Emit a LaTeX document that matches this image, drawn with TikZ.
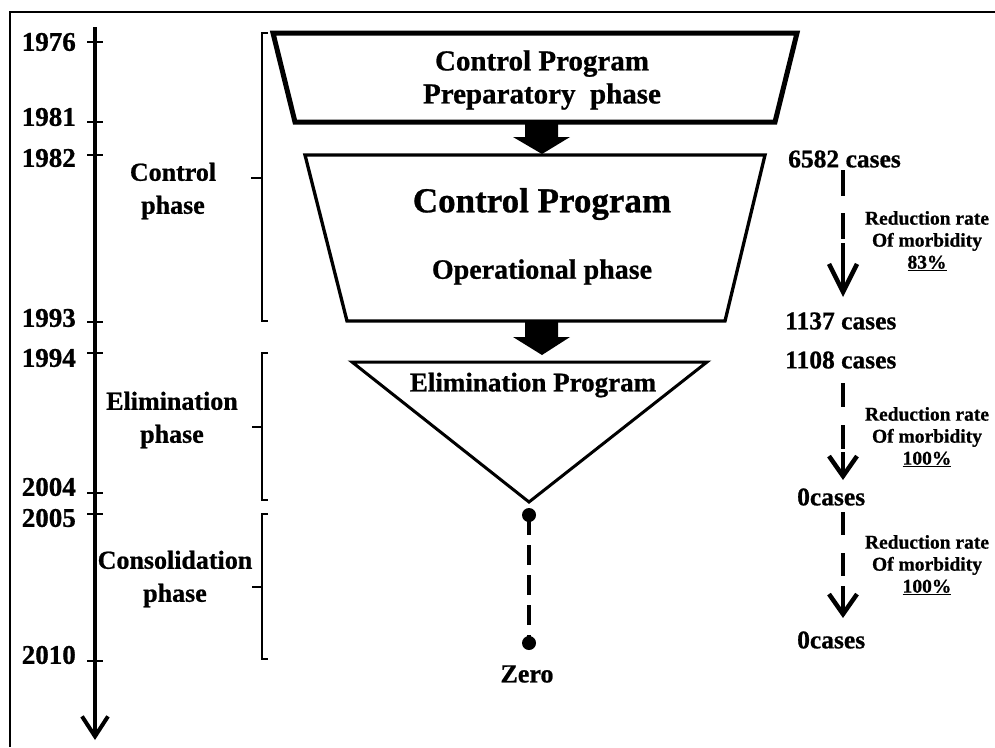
\documentclass[tikz,border=0pt]{standalone}
\usepackage{fontspec}
\setmainfont[BoldFeatures={FakeBold=0.8}]{Liberation Serif}
\usetikzlibrary{arrows.meta}
\begin{document}
\begin{tikzpicture}[x=1pt,y=-1pt,
  every node/.style={inner sep=0pt, align=center},
  yr/.style={font=\fontsize{27}{30}\selectfont\bfseries, anchor=east},
  phs/.style={font=\fontsize{26}{33}\selectfont\bfseries},
  cases/.style={font=\fontsize{25.5}{30}\selectfont\bfseries, anchor=west},
  redn/.style={font=\fontsize{19.5}{22}\selectfont\bfseries},
  bracketline/.style={line width=2.6},
  tickline/.style={line width=2.2},
  dashseg/.style={line width=4.5},
  arrowseg/.style={line width=4.5, -{Straight Barb[length=20pt,width=28pt]}},
  longarrowseg/.style={line width=4.5, -{Straight Barb[length=28pt,width=28pt]}},
]
\useasboundingbox (0,0) rectangle (995,747);
\fill[white] (0,0) rectangle (995,747);
% frame
\draw[line width=2.5] (10,747) -- (10,12) -- (995,12);
% time axis
\coordinate (axtop) at (95,27);
\coordinate (axbot) at (95,740);
\draw[line width=4, -{Straight Barb[length=20pt,width=26pt]}] (axtop) -- (axbot);
\foreach \ty/\ly/\yr in {42/42/1976,122/117/1981,155/158/1982,322/318/1993,353/358/1994,493/487/2004,514/518/2005,661/655/2010}{
  \draw[tickline] (87,\ty) -- (103,\ty);
  \node[yr] (y\yr) at (76,\ly) {\yr};
}
% brackets
\draw[bracketline] (268,33) -- (262,33) -- (262,321) -- (268,321);
\draw[bracketline] (262,178) -- (251,178);
\draw[bracketline] (268,353) -- (262,353) -- (262,500) -- (268,500);
\draw[bracketline] (262,427) -- (252,427);
\draw[bracketline] (268,514) -- (262,514) -- (262,659) -- (268,659);
\draw[bracketline] (262,587) -- (252,587);
\node[phs] (pcontrol) at (173,191) {Control\\phase};
\node[phs] (pelim) at (172,420) {Elimination\\phase};
\node[phs] (pcons) at (175,579) {Consolidation\\phase};
% top trapezoid
\draw[line width=5, line join=miter] (273,33) -- (797,33) -- (775,122) -- (295,122) -- cycle;
\node[font=\fontsize{29}{33}\selectfont\bfseries] (prep) at (542,80) {Control Program\\Preparatory\ \ phase};
% block arrow 1
\fill (525,121) -- (558,121) -- (558,137) -- (570,137) -- (542,154) -- (513,137) -- (525,137) -- cycle;
% middle trapezoid
\draw[line width=3.3, line join=miter] (305,155) -- (765,155) -- (725,321) -- (347,321) -- cycle;
\node[font=\fontsize{35}{40}\selectfont\bfseries] (cprog) at (542,204) {Control Program};
\node[font=\fontsize{28}{32}\selectfont\bfseries] (oper) at (542,272) {Operational phase};
% block arrow 2
\fill (525,320) -- (558,320) -- (558,337) -- (570,337) -- (542,355) -- (513,337) -- (525,337) -- cycle;
% triangle
\draw[line width=3, line join=miter] (352,362) -- (707,362) -- (529,502) -- cycle;
\node[font=\fontsize{27}{30}\selectfont\bfseries] (elim) at (533,385) {Elimination Program};
% zero line
\coordinate (d1) at (529,515);
\coordinate (d2) at (529,643);
\fill (d1) circle (7);
\fill (d2) circle (7);
\draw[line width=4.5, dash pattern=on 20 off 10] (d1) -- (d2);
\node[font=\fontsize{26}{30}\selectfont\bfseries] (zero) at (527,674) {Zero};
% right side
\node[cases] (c6582) at (788,159) {6582 cases};
\node[cases] (c1137) at (785,321) {1137 cases};
\node[cases] (c1108) at (785,360) {1108 cases};
\node[cases] (c0a) at (797,497) {0cases};
\node[cases] (c0b) at (797,640) {0cases};
\node[redn] (r1) at (927,241) {Reduction rate\\Of morbidity\\\underline{83\%}};
\node[redn] (r2) at (927,437) {Reduction rate\\Of morbidity\\\underline{100\%}};
\node[redn] (r3) at (927,565) {Reduction rate\\Of morbidity\\\underline{100\%}};
% dashed arrows
\coordinate (a1s) at (843,170); \coordinate (a1m) at (843,243); \coordinate (a1e) at (843,297);
\coordinate (a2s) at (843,383); \coordinate (a2m) at (843,452); \coordinate (a2e) at (843,480);
\coordinate (a3s) at (843,512); \coordinate (a3m) at (843,586); \coordinate (a3e) at (843,618);
\draw[dashseg, dash pattern=on 26 off 17] (a1s) -- (a1m);
\draw[longarrowseg] (a1m) -- (a1e);
\draw[dashseg, dash pattern=on 24 off 18] (a2s) -- (a2m);
\draw[arrowseg] (a2m) -- (a2e);
\draw[dashseg, dash pattern=on 23 off 18] (a3s) -- (a3m);
\draw[arrowseg] (a3m) -- (a3e);
\end{tikzpicture}
\end{document}
